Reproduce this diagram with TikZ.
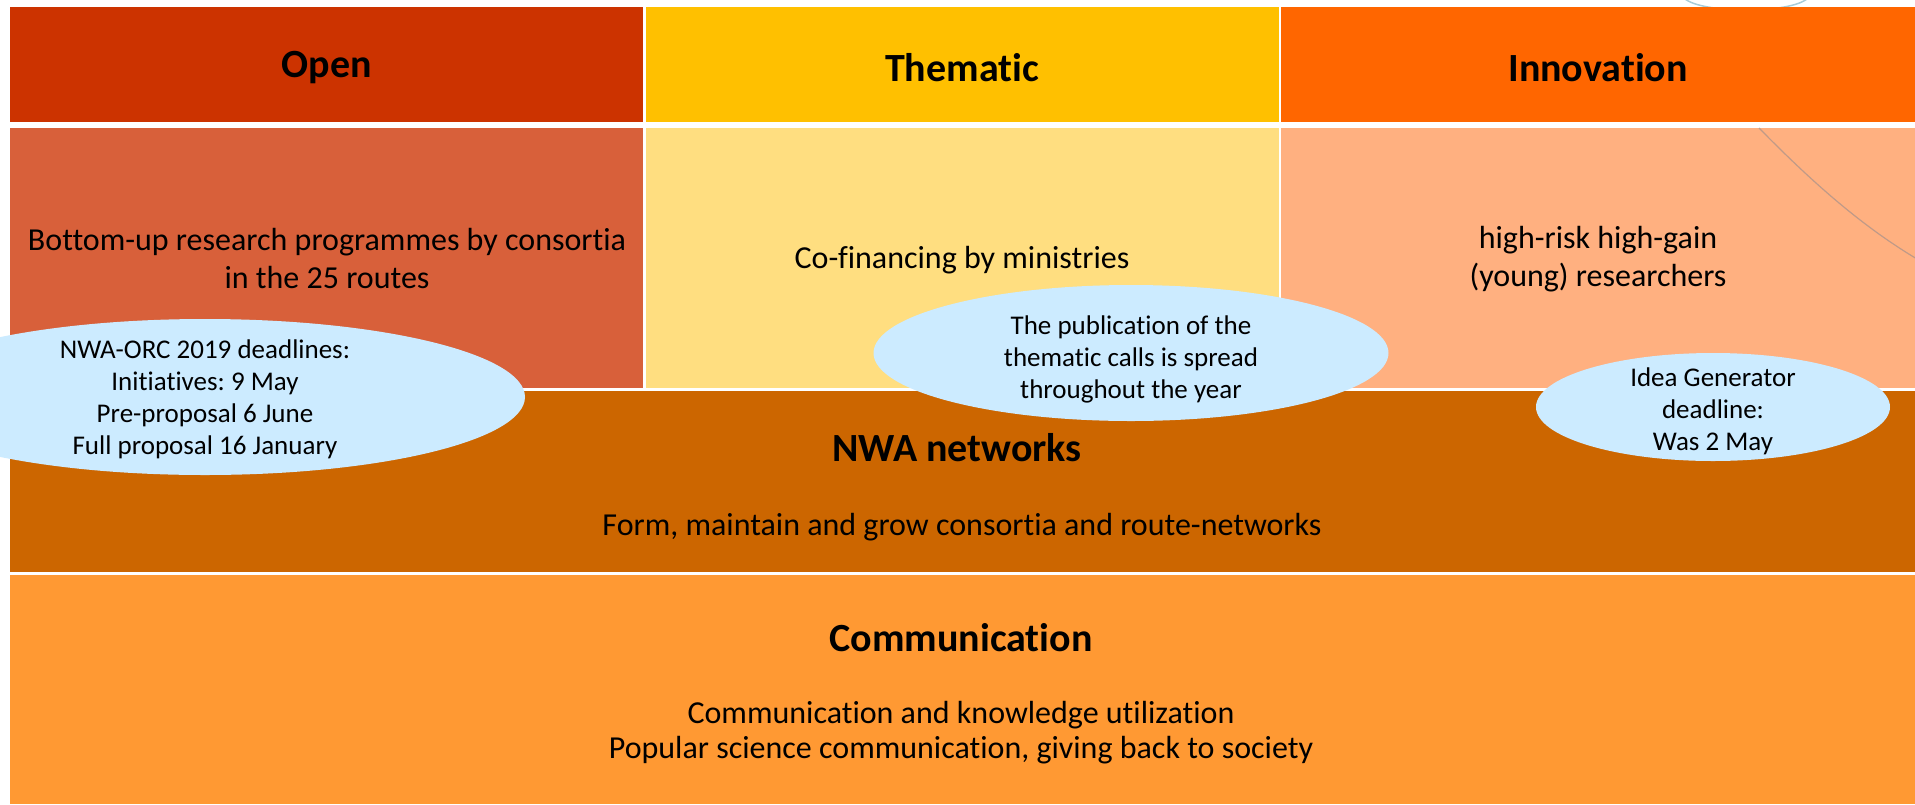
\documentclass[tikz,border=0pt]{standalone}
\usepackage{fontspec}
\setmainfont{Carlito}[Ligatures=NoCommon]
\frenchspacing
\usetikzlibrary{shapes.geometric}
\definecolor{openH}{HTML}{CC3300}
\definecolor{themH}{HTML}{FFC000}
\definecolor{innoH}{HTML}{FF6600}
\definecolor{openB}{HTML}{D8603A}
\definecolor{themB}{HTML}{FFDE80}
\definecolor{innoB}{HTML}{FFB080}
\definecolor{nwaC}{HTML}{CC6600}
\definecolor{commC}{HTML}{FF9933}
\definecolor{bubble}{HTML}{CCEBFF}
\definecolor{arcC}{HTML}{C09A88}
\definecolor{arcB}{HTML}{A8CCD8}
\begin{document}
\begin{tikzpicture}[x=1pt,y=-1pt,
  cell/.style={rectangle, inner sep=0pt, draw=none, anchor=north west},
  head/.style={font=\fontsize{40}{48}\selectfont\bfseries},
  body/.style={align=center, font=\fontsize{32}{38}\selectfont},
  bub/.style={ellipse, fill=bubble, draw=none, inner sep=0pt},
  bubtext/.style={align=center, font=\fontsize{27}{32}\selectfont}]
\useasboundingbox (0,0) rectangle (1915,804);
\clip (0,0) rectangle (1915,804);
% faint arcs at top right
\draw[arcB, line width=1.5pt] (1684,-2) .. controls (1700,14) and (1792,14) .. (1808,-2);
% header row
\node[cell, fill=openH, minimum width=633pt, minimum height=115pt] (oh) at (10,7) {};
\node[cell, fill=themH, minimum width=633pt, minimum height=115pt] (th) at (646,7) {};
\node[cell, fill=innoH, minimum width=634pt, minimum height=115pt] (ih) at (1281,7) {};
\node[head] (ohT) at (327,68) {Open};
\node[head] (thT) at (962,68) {Thematic};
\node[head] (ihT) at (1598,68) {Innovation};
% second row
\node[cell, fill=openB, minimum width=633pt, minimum height=260pt] (ob) at (10,128) {};
\node[cell, fill=themB, minimum width=633pt, minimum height=260pt] (tb) at (646,128) {};
\node[cell, fill=innoB, minimum width=634pt, minimum height=260pt] (ib) at (1281,128) {};
\draw[arcC, line width=1.2pt] (1759,128) .. controls (1810,180) and (1860,225) .. (1917,259);
\node[body] (obT) at (327,259) {Bottom-up research programmes by consortia\\in the 25 routes};
\node[body] (tbT) at (962,260) {Co-financing by ministries};
\node[body] (ibT) at (1598,259) {high-risk high-gain\\(young) researchers};
% NWA networks
\node[cell, fill=nwaC, minimum width=1905pt, minimum height=181pt] (nwa) at (10,391) {};
\node[head] (nwaT) at (957,448) {NWA networks};
\node[body] (nwaS) at (962,527) {Form, maintain and grow consortia and route-networks};
% Communication
\node[cell, fill=commC, minimum width=1905pt, minimum height=229pt] (comm) at (10,575) {};
\node[head] (commT) at (961,638) {Communication};
\node[body, font=\fontsize{32}{35}\selectfont] (commS) at (961,733) {Communication and knowledge utilization\\Popular science communication, giving back to society};
% bubbles
\node[bub, minimum width=640pt, minimum height=156pt] (b1) at (205,397) {};
\node[bubtext] (b1T) at (205,399) {NWA-ORC 2019 deadlines:\\Initiatives: 9 May\\Pre-proposal 6 June\\Full proposal 16 January};
\node[bub, minimum width=515pt, minimum height=136pt] (b2) at (1131,353) {};
\node[bubtext] (b2T) at (1131,359) {The publication of the\\thematic calls is spread\\throughout the year};
\node[bub, minimum width=354pt, minimum height=108pt] (b3) at (1713,407) {};
\node[bubtext] (b3T) at (1713,411) {Idea Generator\\deadline:\\Was 2 May};
\end{tikzpicture}
\end{document}
